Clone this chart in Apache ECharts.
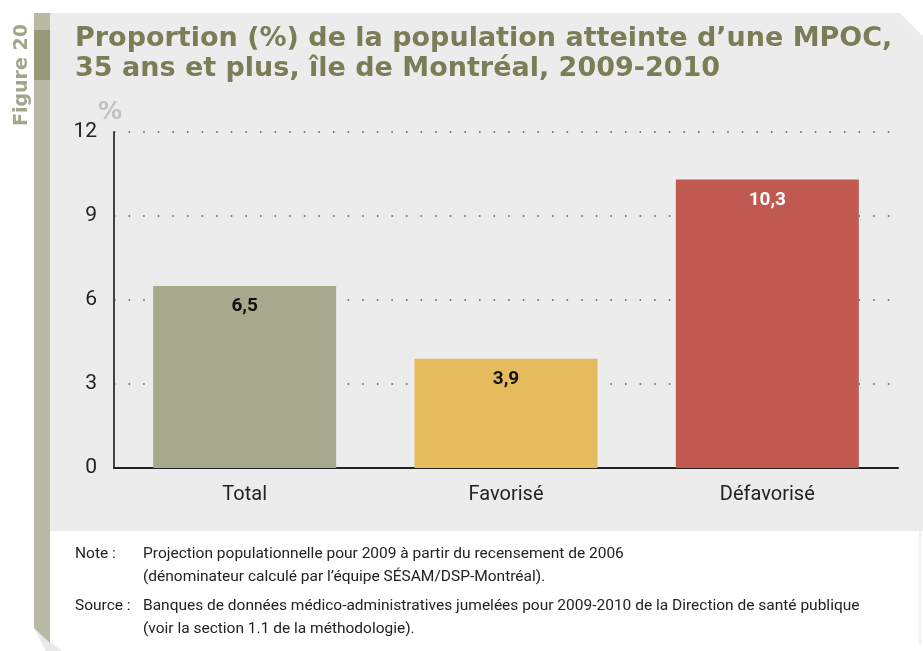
<!DOCTYPE html>
<html>
<head>
<meta charset="utf-8">
<script src="https://cdn.jsdelivr.net/npm/echarts@6/dist/echarts.min.js"></script>
<style>
  html, body { margin: 0; padding: 0; background: #fff; }
  #chart { width: 923px; height: 651px; }
</style>
</head>
<body>
<div id="chart"></div>
<script>
// données
const categories = ['Total', 'Favorisé', 'Défavorisé'];
const values = [6.5, 3.9, 10.3];
const barColors = ['#a6a98c', '#e5bb5d', '#c05a50'];
const labelColors = ['#111', '#111', '#fff'];
const yTicks = { min: 0, max: 12, interval: 3 };

const titleLines = [
  'Proportion (%) de la population atteinte d\u2019une MPOC,',
  '35 ans et plus, île de Montréal, 2009-2010'
];
const notes = [
  ['Note :', 'Projection populationnelle pour 2009 à partir du recensement de 2006'],
  ['', '(dénominateur calculé par l\u2019équipe SÉSAM/DSP-Montréal).'],
  ['Source :', 'Banques de données médico-administratives jumelées pour 2009-2010 de la Direction de santé publique'],
  ['', '(voir la section 1.1 de la méthodologie).']
];
const noteY = [554, 577, 606, 629];

const condensed = '"Liberation Sans Narrow", "Roboto", sans-serif';
const titleFont = '"DejaVu Sans", "Open Sans", sans-serif';

const chart = echarts.init(document.getElementById('chart'));

// décor (panneau gris, barre latérale)
const decor = [
  { type: 'polygon', z: -100, shape: { points: [[47,13],[900,13],[923,36],[923,531],[47,531]] }, style: { fill: '#ececec' } },
  { type: 'line', z: -100, shape: { x1: 920, y1: 531, x2: 920, y2: 645 }, style: { stroke: '#e4e4e4', lineWidth: 1 } },
  { type: 'polygon', z: -99, shape: { points: [[34,628],[50,642],[62,651],[46,651]] }, style: { fill: '#e8e8e8' } },
  { type: 'polygon', z: -98, shape: { points: [[34,13],[50,13],[50,643],[34,628]] }, style: { fill: '#b8baa3' } },
  { type: 'rect', z: -97, shape: { x: 34, y: 30, width: 16, height: 50 }, style: { fill: '#96987a' } },
  { type: 'text', z: 10, x: 13, y: 126, rotation: Math.PI / 2,
    style: { text: 'Figure 20', fill: '#a4a68c', font: 'bold 19px ' + titleFont, verticalAlign: 'top' } }
];

const texts = [];
titleLines.forEach((t, i) => {
  texts.push({ type: 'text', x: 75, y: 39 + i * 30,
    style: { text: t, fill: '#7a7d55', font: 'bold 27px ' + titleFont, verticalAlign: 'middle' } });
});
texts.push({ type: 'text', x: 98, y: 113,
  style: { text: '%', fill: '#c2c2c2', font: 'bold 24px ' + titleFont, verticalAlign: 'middle' } });
notes.forEach((n, i) => {
  if (n[0]) texts.push({ type: 'text', x: 75, y: noteY[i],
    style: { text: n[0], fill: '#222', font: '15.5px ' + condensed, verticalAlign: 'middle' } });
  texts.push({ type: 'text', x: 143, y: noteY[i],
    style: { text: n[1], fill: '#222', font: '15.5px ' + condensed, verticalAlign: 'middle' } });
});

chart.setOption({
  animation: false,
  grid: { left: 114, right: 25, top: 132, bottom: 183 },
  graphic: decor.concat(texts),
  xAxis: {
    type: 'category',
    data: categories,
    axisLine: { lineStyle: { color: '#222', width: 2 } },
    axisTick: { show: false },
    axisLabel: { color: '#222', fontSize: 20, fontFamily: condensed, margin: 17 }
  },
  yAxis: {
    type: 'value',
    min: yTicks.min, max: yTicks.max, interval: yTicks.interval,
    axisLine: { show: true, lineStyle: { color: '#444', width: 2 } },
    axisTick: { show: false },
    axisLabel: { color: '#222', fontSize: 21, fontFamily: condensed, margin: 17 },
    splitLine: { lineStyle: { color: '#555', width: 1.5, type: [1.5, 13.1] } }
  },
  series: [{
    type: 'bar',
    barWidth: 183,
    data: values.map((v, i) => ({
      value: v,
      itemStyle: { color: barColors[i] },
      label: { color: labelColors[i] }
    })),
    label: {
      show: true,
      position: 'insideTop',
      distance: 11,
      fontSize: 19,
      fontWeight: 'bold',
      fontFamily: condensed,
      formatter: p => String(p.value).replace('.', ',')
    }
  }]
});
</script>
</body>
</html>
